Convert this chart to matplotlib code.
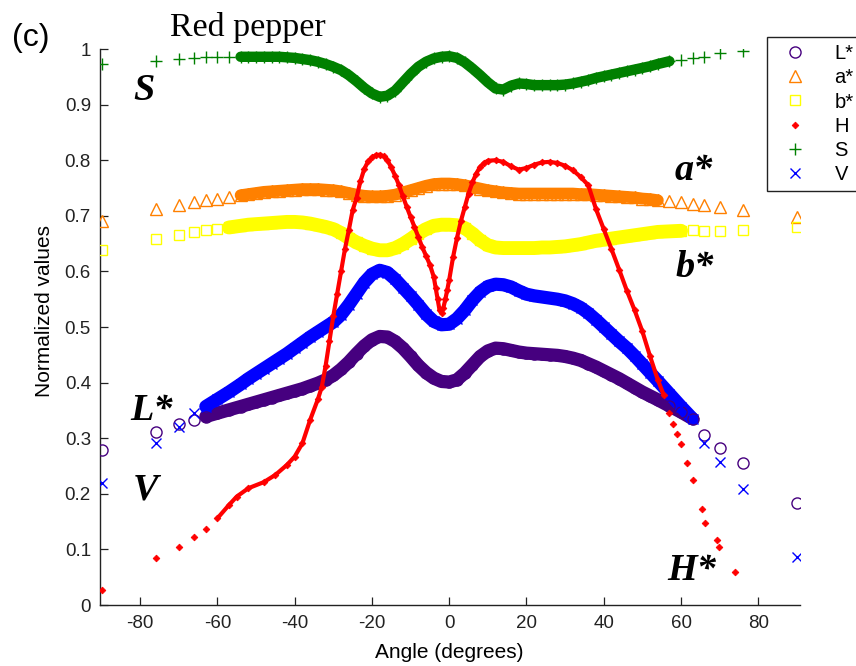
import numpy as np
import matplotlib
matplotlib.use("Agg")
import matplotlib.pyplot as plt

plt.rcParams['font.family'] = ['Liberation Sans', 'DejaVu Sans']
plt.rcParams['axes.unicode_minus'] = False

# ---------------- data ----------------
ANGLES = [-90, -76, -70, -66, -63, -60, -57,
          -54, -52, -50, -48, -46, -44, -42, -40, -38, -36, -34, -32, -30, -28, -26, -24,
          -22, -20, -18, -16, -14, -12, -10, -8, -6, -4, -2,
          0, 2, 4, 6, 8, 10, 12, 14, 16, 18, 20, 22, 24, 26, 28, 30, 32, 34, 36, 38,
          40, 42, 44, 46, 48, 50, 52, 54,
          57, 60, 63, 66, 70, 76, 90]

L_STAR = [.279, .311, .326, .333, .339, .345, .351,
          .357, .361, .365, .369, .373, .377, .381, .385, .389, .394, .399, .405, .413, .424, .437, .452,
          .466, .477, .483, .482, .474, .462, .447, .431, .418, .408, .402,
          .401, .405, .417, .432, .447, .457, .462, .461, .458, .455, .453, .452, .451, .450, .449, .447,
          .444, .440, .434, .428, .421, .414, .407, .399, .391, .383, .376, .369,
          .358, .347, .335, .306, .282, .255, .183]

A_STAR = [.690, .712, .720, .725, .728, .731, .734,
          .737, .739, .741, .743, .744, .745, .746, .747, .748, .748, .748, .747, .746, .744, .741, .738,
          .736, .735, .735, .736, .738, .742, .746, .750, .754, .757, .758,
          .758, .757, .755, .752, .749, .746, .744, .742, .741, .740, .740, .740, .740, .740, .740, .740,
          .740, .739, .739, .738, .737, .736, .735, .734, .733, .731, .730, .728,
          .726, .724, .722, .720, .715, .710, .698]

B_STAR = [.638, .658, .665, .671, .674, .677, .679,
          .682, .684, .685, .686, .687, .688, .689, .689, .688, .686, .683, .680, .676, .669, .660, .652,
          .646, .641, .638, .638, .642, .649, .658, .668, .676, .682, .684,
          .684, .683, .678, .668, .656, .647, .643, .642, .642, .642, .642, .642, .643, .643, .644, .645,
          .647, .649, .652, .655, .657, .659, .661, .663, .665, .667, .669, .671,
          .672, .673, .674, .672, .673, .675, .680]

S_VAL = [.973, .978, .982, .984, .985, .986, .986,
         .986, .986, .986, .986, .986, .986, .985, .984, .982, .980, .977, .973, .968, .962, .953, .942,
         .930, .920, .914, .916, .925, .940, .955, .968, .977, .983, .986,
         .987, .984, .976, .965, .953, .940, .929, .927, .934, .938, .937, .935, .935, .935, .935, .936,
         .938, .941, .944, .948, .951, .954, .957, .960, .963, .966, .969, .973,
         .978, .981, .984, .985, .993, .997, np.nan]

V_VAL = [.219, .291, .320, .345, .357, .370, .383,
         .397, .407, .416, .425, .434, .443, .452, .462, .472, .482, .491, .500, .509, .522, .540, .560,
         .580, .595, .602, .598, .586, .571, .556, .540, .523, .510, .504,
         .505, .515, .530, .548, .563, .573, .577, .576, .572, .565, .559, .556, .554, .552, .550, .547,
         .542, .535, .525, .513, .500, .487, .474, .462, .448, .433, .418, .403,
         .380, .357, .335, .291, .257, .209, .086]

H_ANGLES = [-90, -76, -70, -66, -63, -60, -57, -55, -52, -48,
            -45, -42, -40, -38, -36, -34, -33, -32, -31, -30,
            -29, -28, -27, -26, -25, -24, -23, -22, -21, -20,
            -19, -18, -17, -16, -15, -14, -13, -12, -11, -10,
            -9, -8, -7, -6, -5, -4,
            -3.5, -3, -2.5, -2, -1.5, -1, -0.5, 0,
            1, 2, 3, 4, 5, 6, 7, 8, 9, 10,
            12, 14, 16, 18, 20, 22, 24, 26, 28, 30,
            32, 34, 36, 38, 40, 42, 44, 46, 48, 50,
            52, 54, 55.5, 57, 58, 59, 60, 61.5, 63,
            65.5, 66.2, 69.3, 69.8, 74]
H_VAL = [.027, .085, .104, .122, .136, .156, .180, .195, .210, .221,
         .234, .252, .267, .291, .333, .370, .392, .430, .475, .520,
         .560, .600, .640, .674, .710, .732, .762, .784, .798, .805,
         .809, .810, .807, .800, .787, .772, .755, .735, .716, .698,
         .680, .662, .644, .628, .612, .590,
         .570, .550, .530, .525, .535, .550, .567, .585,
         .626, .660, .690, .715, .740, .760, .776, .788, .795, .799,
         .800, .797, .789, .783, .786, .792, .796, .797, .795, .790,
         .782, .770, .755, .712, .676, .640, .603, .565, .530, .492,
         .447, .405, .378, .345, .325, .307, .290, .255, .225,
         .172, .148, .117, .104, .059]

LABELS = ['L*', 'a*', 'b*', 'H', 'S', 'V']
X_TICKS = [-80, -60, -40, -20, 0, 20, 40, 60, 80]
Y_TICKS = [0, 0.1, 0.2, 0.3, 0.4, 0.5, 0.6, 0.7, 0.8, 0.9, 1]
Y_TICKLABELS = ['0', '0.1', '0.2', '0.3', '0.4', '0.5', '0.6', '0.7', '0.8', '0.9', '1']

# ---------------- figure ----------------
W, H = 856, 666
fig = plt.figure(figsize=(W / 100, H / 100), dpi=100)
ax = fig.add_axes([100 / W, 61 / H, 700 / W, 556 / H])
ax.set_xlim(-90.4, 90.8)
ax.set_ylim(0, 1)

ang = np.array(ANGLES, dtype=float)
hang = np.array(H_ANGLES, dtype=float)
hval = np.array(H_VAL, dtype=float)
hdense = (hang >= -62) & (hang <= 56)

C_L = '#46007f'
C_A = '#ff8000'
C_B = '#ffff00'
C_H = '#ff0000'
C_S = '#008000'
C_V = '#0000ff'

# (values, colour, marker, marker size, band width, band range lo, hi)
series = [
    ('L*', L_STAR, C_L, 'o', 8.0, 9.5, -63, 63),
    ('a*', A_STAR, C_A, '^', 8.0, 8.5, -54, 54),
    ('b*', B_STAR, C_B, 's', 7.0, 10.0, -57, 60),
    ('S', S_VAL, C_S, '+', 9.0, 7.5, -54, 57),
    ('V', V_VAL, C_V, 'x', 7.0, 9.5, -63, 63),
]

handles = {}
for name, vals, col, mk, ms, bw, lo, hi in series:
    v = np.array(vals, dtype=float)
    band = (ang >= lo) & (ang <= hi)
    ax.plot(ang[band], v[band], '-', color=col, lw=bw, solid_capstyle='round', zorder=2)
    h, = ax.plot(ang, v, linestyle='none', marker=mk, ms=ms, mew=1.0,
                 mfc='none', mec=col, color=col, zorder=3, label=name)
    handles[name] = h

ax.plot(hang[hdense], hval[hdense], '-', color=C_H, lw=3.0, zorder=4)
hH, = ax.plot(hang, hval, linestyle='none', marker='D', ms=3.4, mew=0.6,
              mfc=C_H, mec=C_H, zorder=5, label='H')
handles['H'] = hH

# axes styling (MATLAB-like, box off)
for s in ['top', 'right']:
    ax.spines[s].set_visible(False)
for s in ['left', 'bottom']:
    ax.spines[s].set_linewidth(1.0)
    ax.spines[s].set_color('#222222')
ax.set_xticks(X_TICKS)
ax.set_xticklabels([str(t) for t in X_TICKS])
ax.set_yticks(Y_TICKS)
ax.set_yticklabels(Y_TICKLABELS)
ax.tick_params(axis='both', direction='in', length=6, width=0.9, colors='#222222',
               labelsize=13.5)
ax.tick_params(axis='x', pad=7)
ax.tick_params(axis='y', pad=6.5)

# legend
leg = ax.legend([handles[k] for k in LABELS], LABELS, loc='upper left',
                bbox_to_anchor=(767 / W, 1 - 37 / H), bbox_transform=fig.transFigure,
                borderaxespad=0, fontsize=14.5, frameon=True, fancybox=False,
                framealpha=1, edgecolor='#222222', borderpad=0.35, labelspacing=0.26,
                handlelength=2.1, handletextpad=0.9, numpoints=1)
leg.get_frame().set_linewidth(1.0)

# texts
fig.text(45 / W, 1 - 311 / H, 'Normalized values', rotation=90, ha='center', va='center',
         fontsize=15)
fig.text(449 / W, 1 - 658 / H, 'Angle (degrees)', ha='center', va='baseline', fontsize=15)
fig.text(170 / W, 1 - 36 / H, 'Red pepper', ha='left', va='baseline', fontsize=24.5,
         family='Liberation Serif')
fig.text(12 / W, 1 - 46 / H, '(c)', ha='left', va='baseline', fontsize=23)

lab_kw = dict(family='Liberation Serif', fontweight='bold', fontstyle='italic',
              fontsize=27.5, ha='left', va='baseline', zorder=6)
for txt, px, py in [('S', 133, 100), ('a*', 675, 180), ('b*', 675, 277),
                    ('L*', 130, 420), ('V', 133, 500), ('H*', 667, 580)]:
    fig.text(px / W, 1 - py / H, txt, **lab_kw)

fig.savefig('out.png', dpi=100)
